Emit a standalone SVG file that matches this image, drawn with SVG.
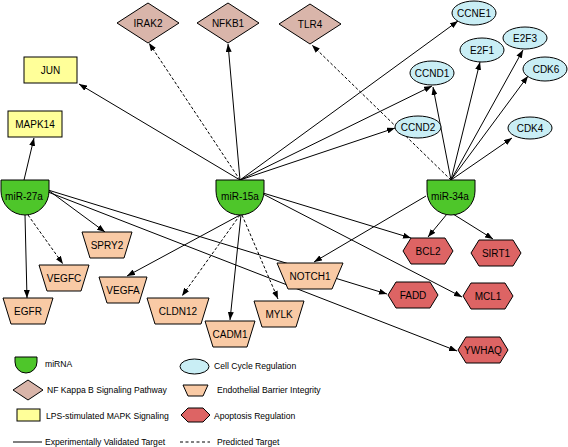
<svg xmlns="http://www.w3.org/2000/svg" width="568" height="447" viewBox="0 0 568 447">
<style>
text{font-family:"Liberation Sans",Arial,sans-serif;fill:#000}
.lbl{font-size:10px;text-anchor:middle}
.leg{font-size:8.6px}
.mi{fill:#4ec62a;stroke:#000;stroke-width:1}
.dia{fill:#d9b5aa;stroke:#000;stroke-width:1}
.rec{fill:#ffff99;stroke:#000;stroke-width:1}
.ell{fill:#c9eef5;stroke:#000;stroke-width:1}
.tra{fill:#f9caa5;stroke:#000;stroke-width:1}
.hex{fill:#dd6464;stroke:#000;stroke-width:1}
.e{stroke:#000;stroke-width:1;fill:none;marker-end:url(#arr)}
.d{stroke-dasharray:3,2}
</style>
<defs>
<marker id="arr" viewBox="0 0 8 6" refX="8" refY="3" markerWidth="8" markerHeight="6" orient="auto" markerUnits="userSpaceOnUse"><path d="M0,0 L8,3 L0,6 z" fill="#000"/></marker>
<path id="mishape" d="M-24,0 H24 V11 A24,24 0 0 1 -24,11 Z"/>
<polygon id="diashape" points="-31,0 0,-20 31,0 0,20"/>
<polygon id="hexshape" points="-25,0 -17,-13 17,-13 25,0 17,13 -17,13"/>
<polygon id="trashape" points="-25,-13 25,-13 17,13 -17,13"/>
</defs>
<rect width="568" height="447" fill="#fff"/>
<g id="connectors">
<line class="e" x1="24" y1="180" x2="34" y2="138"/>
<line class="e" x1="25" y1="215" x2="27" y2="298"/>
<line class="e d" x1="28" y1="215" x2="63" y2="264"/>
<line class="e" x1="48" y1="190" x2="105" y2="232"/>
<line class="e" x1="48" y1="190" x2="387" y2="294"/>
<line class="e" x1="48" y1="192" x2="457" y2="351"/>
<line class="e" x1="240" y1="180" x2="79" y2="84"/>
<line class="e d" x1="240" y1="180" x2="149" y2="43"/>
<line class="e" x1="240" y1="180" x2="228" y2="44"/>
<line class="e" x1="240" y1="180" x2="458" y2="21"/>
<line class="e" x1="240" y1="180" x2="432" y2="86"/>
<line class="e" x1="240" y1="180" x2="395" y2="128"/>
<line class="e" x1="263" y1="193" x2="411" y2="238"/>
<line class="e" x1="263" y1="194" x2="462" y2="297"/>
<line class="e" x1="240" y1="215" x2="127" y2="276"/>
<line class="e d" x1="240" y1="215" x2="182" y2="296"/>
<line class="e" x1="241" y1="215" x2="230" y2="320"/>
<line class="e d" x1="242" y1="215" x2="278" y2="299"/>
<line class="e d" x1="451" y1="180" x2="312" y2="45"/>
<line class="e" x1="451" y1="180" x2="433" y2="87"/>
<line class="e" x1="451" y1="180" x2="480" y2="62"/>
<line class="e" x1="451" y1="180" x2="523" y2="50"/>
<line class="e" x1="451" y1="180" x2="528" y2="76"/>
<line class="e" x1="451" y1="180" x2="512" y2="138"/>
<line class="e" x1="447" y1="214" x2="428" y2="237"/>
<line class="e" x1="453" y1="214" x2="493" y2="239"/>
<line class="e" x1="426" y1="196" x2="314" y2="262"/>
</g>
<g id="n-irak2" transform="translate(148,23)"><use href="#diashape" class="dia"/><text class="lbl" y="3.5">IRAK2</text></g>
<g id="n-nfkb1" transform="translate(228,23)"><use href="#diashape" class="dia"/><text class="lbl" y="3.5">NFKB1</text></g>
<g id="n-tlr4" transform="translate(310,24)"><use href="#diashape" class="dia"/><text class="lbl" y="3.5">TLR4</text></g>
<g id="n-jun"><rect class="rec" x="24" y="57" width="53" height="26"/><text class="lbl" x="50.5" y="73.5">JUN</text></g>
<g id="n-mapk14"><rect class="rec" x="8" y="111" width="54" height="26"/><text class="lbl" x="35" y="127.5">MAPK14</text></g>
<g id="n-ccne1"><ellipse class="ell" cx="474" cy="13" rx="22" ry="12"/><text class="lbl" x="474" y="16.5">CCNE1</text></g>
<g id="n-e2f1"><ellipse class="ell" cx="482" cy="50" rx="22" ry="12"/><text class="lbl" x="482" y="53.5">E2F1</text></g>
<g id="n-e2f3"><ellipse class="ell" cx="525" cy="38" rx="22" ry="11"/><text class="lbl" x="525" y="41.5">E2F3</text></g>
<g id="n-cdk6"><ellipse class="ell" cx="545" cy="69" rx="22" ry="12"/><text class="lbl" x="546" y="72.5">CDK6</text></g>
<g id="n-ccnd1"><ellipse class="ell" cx="432" cy="73" rx="22" ry="12"/><text class="lbl" x="432" y="76.5">CCND1</text></g>
<g id="n-ccnd2"><ellipse class="ell" cx="418" cy="127" rx="23" ry="11"/><text class="lbl" x="418" y="130.5">CCND2</text></g>
<g id="n-cdk4"><ellipse class="ell" cx="530" cy="128" rx="22" ry="11"/><text class="lbl" x="530" y="131.5">CDK4</text></g>
<g id="n-mir27a" transform="translate(25,180)"><use href="#mishape" class="mi"/><text class="lbl" x="-1" y="20">miR-27a</text></g>
<g id="n-mir15a" transform="translate(240,180)"><use href="#mishape" class="mi"/><text class="lbl" y="20">miR-15a</text></g>
<g id="n-mir34a" transform="translate(451,180)"><use href="#mishape" class="mi"/><text class="lbl" x="-1" y="20">miR-34a</text></g>
<g id="n-spry2" transform="translate(107,245)"><use href="#trashape" class="tra"/><text class="lbl" y="3.5">SPRY2</text></g>
<g id="n-vegfc" transform="translate(64,278)"><use href="#trashape" class="tra"/><text class="lbl" y="3.5">VEGFC</text></g>
<g id="n-egfr" transform="translate(28,311)"><use href="#trashape" class="tra"/><text class="lbl" y="3.5">EGFR</text></g>
<g id="n-vegfa" transform="translate(123,290)"><polygon class="tra" points="-24,-13 24,-13 16,13 -16,13"/><text class="lbl" y="3.5">VEGFA</text></g>
<g id="n-cldn12" transform="translate(178,311)"><polygon class="tra" points="-31,-13 31,-13 23,13 -23,13"/><text class="lbl" y="3.5">CLDN12</text></g>
<g id="n-cadm1" transform="translate(230,334)"><use href="#trashape" class="tra"/><text class="lbl" y="3.5">CADM1</text></g>
<g id="n-mylk" transform="translate(279,314)"><use href="#trashape" class="tra"/><text class="lbl" y="3.5">MYLK</text></g>
<g id="n-notch1" transform="translate(310,276)"><polygon class="tra" points="-33,-13 33,-13 22,13 -22,13"/><text class="lbl" y="3.5">NOTCH1</text></g>
<g id="n-bcl2" transform="translate(428,251)"><use href="#hexshape" class="hex"/><text class="lbl" y="3.5">BCL2</text></g>
<g id="n-sirt1" transform="translate(496,253)"><use href="#hexshape" class="hex"/><text class="lbl" y="3.5">SIRT1</text></g>
<g id="n-fadd" transform="translate(413,295)"><use href="#hexshape" class="hex"/><text class="lbl" y="3.5">FADD</text></g>
<g id="n-mcl1" transform="translate(488,296)"><use href="#hexshape" class="hex"/><text class="lbl" y="3.5">MCL1</text></g>
<g id="n-ywhaq" transform="translate(483,350)"><use href="#hexshape" class="hex"/><text class="lbl" y="3.5">YWHAQ</text></g>
<g id="legend">
<path class="mi" d="M15,357 H37 V362 A11,11 0 0 1 15,362 Z"/>
<text class="leg" x="45" y="367">miRNA</text>
<polygon class="dia" points="13,390 28,380 43,390 28,400"/>
<text class="leg" x="47" y="393">NF Kappa B Signaling Pathway</text>
<rect class="rec" x="17" y="409" width="23" height="12"/>
<text class="leg" x="46" y="419">LPS-stimulated MAPK Signaling</text>
<line x1="13" y1="442" x2="42" y2="442" stroke="#000" stroke-width="1"/>
<text class="leg" x="45" y="445">Experimentally Validated Target</text>
<line x1="180" y1="442" x2="210" y2="442" stroke="#000" stroke-width="1" stroke-dasharray="3,2.5"/>
<text class="leg" x="217" y="445">Predicted Target</text>
<ellipse class="ell" cx="194.5" cy="366.5" rx="14.5" ry="7.5"/>
<text class="leg" x="214" y="369">Cell Cycle Regulation</text>
<polygon class="tra" points="183,385 208,385 203,396 188,396"/>
<text class="leg" x="217" y="393">Endothelial Barrier Integrity</text>
<polygon class="hex" points="181,415 188,408 203,408 210,415 203,422 188,422"/>
<text class="leg" x="214" y="419">Apoptosis Regulation</text>
</g>
</svg>
